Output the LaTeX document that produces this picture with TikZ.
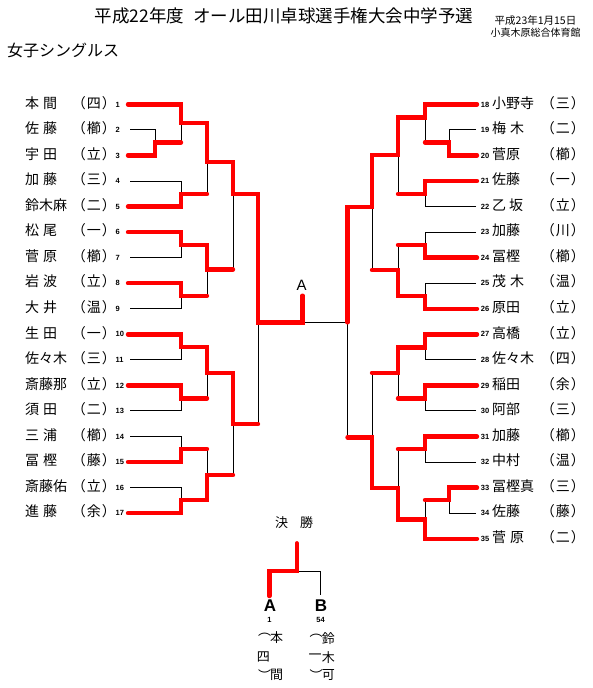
\documentclass[tikz,border=0pt]{standalone}
\usepackage{fontspec}
\setmainfont{Noto Sans CJK JP}
\newfontfamily\numfont{Liberation Sans}
\begin{document}
\begin{tikzpicture}[x=1pt,y=-1pt,
  win/.style={draw=red,line width=4.4pt,line cap=round,line join=miter},
  lose/.style={draw=black,line width=0.9pt},
  nm/.style={inner sep=0pt,font=\fontsize{14}{14}\selectfont},
  nb/.style={inner sep=0pt,font=\numfont\bfseries\fontsize{7.5}{7.5}\selectfont},
  sm/.style={inner sep=0pt,font=\fontsize{13}{13}\selectfont},
]
\fill[white] (0,0) rectangle (592,688);
\useasboundingbox (0,0) rectangle (592,688);

% headings
\node[anchor=base,inner sep=0pt,font=\fontsize{17.5}{17.5}\selectfont] (title) at (284,22.7) {平成22年度\hspace{9pt}オール田川卓球選手権大会中学予選};
\node[inner sep=0pt,font=\fontsize{10.5}{10.5}\selectfont] (date) at (535.5,21) {平成23年1月15日};
\node[inner sep=0pt,font=\fontsize{10}{10}\selectfont] (venue) at (535.5,32.5) {小真木原総合体育館};
\node[anchor=base west,inner sep=0pt,font=\fontsize{16}{16}\selectfont] (sub) at (7,56.5) {女子シングルス};

% left players
\foreach \i/\n/\a in {1/{本\kern4pt 間}/四, 2/{佐\kern4pt 藤}/櫛, 3/{宇\kern4pt 田}/立, 4/{加\kern4pt 藤}/三,
  5/鈴木麻/二, 6/{松\kern4pt 尾}/一, 7/{菅\kern4pt 原}/櫛, 8/{岩\kern4pt 波}/立, 9/{大\kern4pt 井}/温,
  10/{生\kern4pt 田}/一, 11/佐々木/三, 12/斎藤那/立, 13/{須\kern4pt 田}/二, 14/{三\kern4pt 浦}/櫛,
  15/{冨\kern4pt 樫}/藤, 16/斎藤佑/立, 17/{進\kern4pt 藤}/余} {
  \pgfmathsetmacro\yy{104.3+(\i-1)*25.55}
  \node[nm,anchor=base west] (LN\i) at (25,\yy+3.8) {\n};
  \node[nm,anchor=base east] (LA\i) at (116,\yy+3.8) {（\kern1pt\a\kern1pt）};
  \node[nb,anchor=base west] (LNo\i) at (115.5,\yy+2.7) {\i};
}
% right players
\foreach \i/\n/\a in {18/小野寺/三, 19/{梅\kern4pt 木}/二, 20/菅原/櫛, 21/佐藤/一, 22/{乙\kern3pt 坂}/立,
  23/加藤/川, 24/冨樫/櫛, 25/{茂\kern4pt 木}/温, 26/原田/立, 27/高橋/立, 28/佐々木/四, 29/稲田/余,
  30/阿部/三, 31/加藤/櫛, 32/中村/温, 33/冨樫真/三, 34/佐藤/藤, 35/{菅\kern4pt 原}/二} {
  \pgfmathsetmacro\yy{104.3+(\i-18)*25.55}
  \node[nb,anchor=base east] (RNo\i) at (489.5,\yy+2.7) {\i};
  \node[nm,anchor=base west] (RN\i) at (492,\yy+3.8) {\n};
  \node[nm,anchor=base east] (RA\i) at (585,\yy+3.8) {（\kern1pt\a\kern1pt）};
}

% left bracket: losers
\draw[lose] (130,129.9) -| (155,142.5);
\draw[lose] (181,123) -- (181,142.5);
\draw[lose] (130,181) -| (181,194);
\draw[lose] (207,162) -- (207,194);
\draw[lose] (130,257.6) -| (181,245);
\draw[lose] (130,308.7) -| (181,295.7);
\draw[lose] (207,269.5) -- (207,295.7);
\draw[lose] (233,194) -- (233,269.5);
\draw[lose] (130,359.8) -| (181,346.7);
\draw[lose] (130,410.9) -| (181,398.3);
\draw[lose] (207,372.7) -- (207,398.3);
\draw[lose] (130,436.5) -| (181,449);
\draw[lose] (130,487.6) -| (181,500);
\draw[lose] (207,449) -- (207,475);
\draw[lose] (233,424) -- (233,475);
\draw[lose] (258,322.3) -- (258,424);
\draw[lose] (302.5,322.3) -- (347.5,322.3);

% right bracket: losers
\draw[lose] (476,129.9) -| (449,142.3);
\draw[lose] (425,117.3) -- (425,142.3);
\draw[lose] (476,206.5) -| (425,194);
\draw[lose] (398,155) -- (398,194);
\draw[lose] (476,232.1) -| (425,245);
\draw[lose] (476,283.2) -| (425,295.7);
\draw[lose] (398,245) -- (398,270);
\draw[lose] (372,206.7) -- (372,270);
\draw[lose] (476,359.8) -| (425,347.3);
\draw[lose] (476,410.9) -| (425,398.3);
\draw[lose] (398,372.7) -- (398,398.3);
\draw[lose] (476,462) -| (425,449);
\draw[lose] (476,513.1) -| (449,500);
\draw[lose] (425,500) -- (425,519.3);
\draw[lose] (398,449) -- (398,487.7);
\draw[lose] (372,372.7) -- (372,437.3);
\draw[lose] (347.5,322.3) -- (347.5,437.3);

% left bracket: winners
\draw[win] (128,104.3) -| (181,123) -| (207,162) -| (233,194) -| (258,322.3) -| (302.5,295.7);
\draw[win] (128,155.4) -| (155,142.5) -- (181,142.5);
\draw[win] (128,206.5) -| (181,194) -- (207,194);
\draw[win] (128,232.1) -| (181,245) -| (207,269.5) -- (233,269.5);
\draw[win] (128,283.2) -| (181,295.7) -- (207,295.7);
\draw[win] (128,334.3) -| (181,346.7) -| (207,372.7) -| (233,424) -- (258,424);
\draw[win] (128,385.4) -| (181,398.3) -- (207,398.3);
\draw[win] (128,462) -| (181,449) -- (207,449);
\draw[win] (128,513.1) -| (181,500) -| (207,475) -- (233,475);

% right bracket: winners
\draw[win] (477,104.3) -| (425,117.3) -| (398,155) -| (372,206.7) -| (347.5,322.3);
\draw[win] (477,155.4) -| (449,142.3) -- (425,142.3);
\draw[win] (477,181) -| (425,194) -- (398,194);
\draw[win] (477,257.6) -| (425,245) -- (398,245);
\draw[win] (477,308.7) -| (425,295.7) -| (398,270) -- (372,270);
\draw[win] (477,334.3) -| (425,347.3) -| (398,372.7) -- (372,372.7);
\draw[win] (477,385.4) -| (425,398.3) -- (398,398.3);
\draw[win] (477,436.5) -| (425,449) -- (398,449);
\draw[win] (477,487.6) -| (449,500) -- (425,500);
\draw[win] (477,538.7) -| (425,519.3) -| (398,487.7) -| (372,437.3) -- (347.5,437.3);

\node[inner sep=0pt,font=\numfont\fontsize{15}{15}\selectfont] (Atop) at (301.7,285.5) {A};

% final
\node[anchor=base,inner sep=0pt,font=\fontsize{13}{13}\selectfont] (kessho) at (294,527.4) {決\hspace{12pt}勝};
\draw[lose] (296.7,571) -| (320.7,595);
\draw[win] (296.7,543.3) |- (269.3,571) -- (269.3,596);
\node[inner sep=0pt,font=\numfont\bfseries\fontsize{17}{17}\selectfont] (Afin) at (270,605.5) {A};
\node[inner sep=0pt,font=\numfont\bfseries\fontsize{17}{17}\selectfont] (Bfin) at (321,605.5) {B};
\node[nb,anchor=base] (Anum) at (269.5,622.7) {1};
\node[nb,anchor=base] (Bnum) at (320.5,622.7) {54};
\node[sm] (A1) at (264.7,635) {︵};
\node[sm] (A2) at (276.7,638) {本};
\node[sm] (A3) at (263.3,657) {四};
\node[sm] (A4) at (264.7,675) {︶};
\node[sm] (A5) at (276.5,675) {間};
\node[sm] (B1) at (316,635.5) {︵};
\node[sm] (B2) at (328.3,638.3) {鈴};
\node[sm] (B3) at (315,656.7) {一};
\node[sm] (B4) at (328.3,658) {木};
\node[sm] (B5) at (316,675) {︶};
\node[sm] (B6) at (328.3,675.3) {可};
\end{tikzpicture}
\end{document}
